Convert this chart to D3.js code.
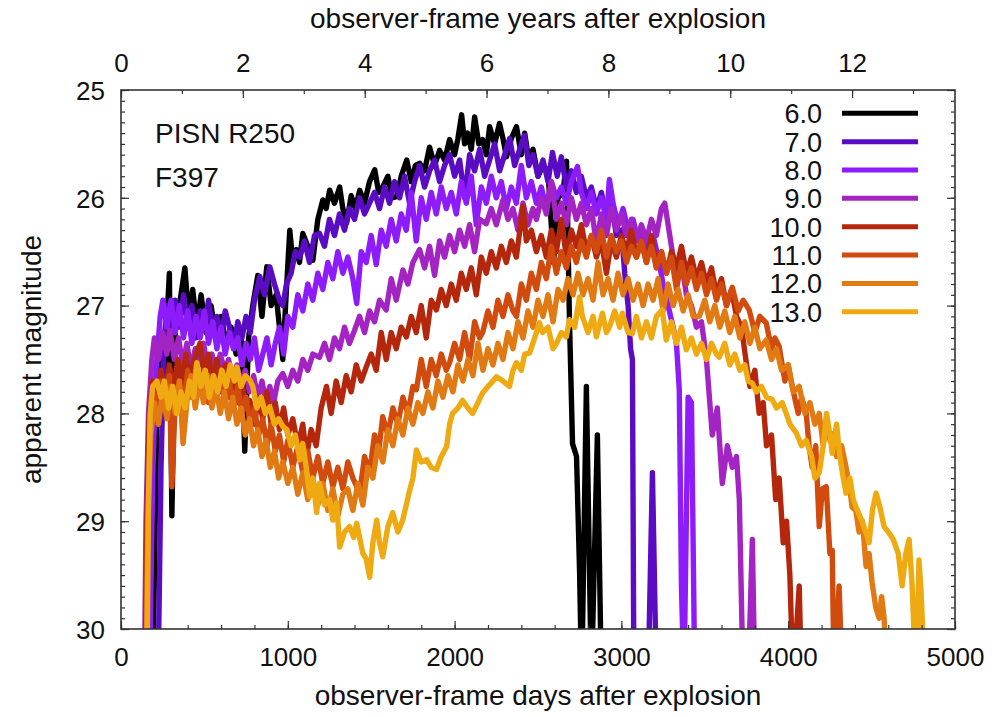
<!DOCTYPE html>
<html>
<head>
<meta charset="utf-8">
<script src="https://cdn.jsdelivr.net/npm/d3@7"></script>
<style>
  body { margin: 0; background: #fff; }
  text { font-family: "Liberation Sans", Arial, Helvetica, sans-serif; fill: #111; }
</style>
</head>
<body>
<svg id="chart" width="992" height="717"></svg>
<script>
// Light curves of PISN R250 in filter F397, one per source redshift.
// Each point: [observer-frame days after explosion, apparent magnitude]
const redshifts = ["6.0", "7.0", "8.0", "9.0", "10.0", "11.0", "12.0", "13.0"];
const lineColors = ["#000000", "#5a0cc4", "#8e1cfa", "#a324c2", "#b4270c", "#d14b0e", "#e17a12", "#efaa12"];

const lcZ6 = [[190,30.5],[215,28.0],[235,27.5],[260,27.6],[290,26.7],[305,28.95],[325,27.2],[350,27.0],[383,26.65],[405,27.1],[430,26.85],[455,27.2],[480,26.9],[510,27.25],[540,27.0],[570,27.3],[600,27.1],[630,27.35],[660,27.2],[690,27.45],[720,27.3],[742,28.35],[765,27.3],[790,27.0],[820,26.72],[845,27.1],[874,26.64],[900,27.0],[930,26.9],[950,27.2],[970,27.5],[990,26.9],[1012,26.3],[1030,26.6],[1052,26.48],[1070,26.6],[1090,26.33],[1120,26.45],[1150,26.58],[1180,26.2],[1210,26.02],[1230,26.1],[1251,25.93],[1280,26.05],[1311,25.9],[1330,26.1],[1353,26.23],[1380,25.98],[1405,26.1],[1431,25.93],[1460,26.05],[1490,25.85],[1521,25.74],[1545,25.95],[1569,25.9],[1600,25.8],[1625,26.0],[1653,25.99],[1680,25.8],[1713,25.65],[1740,25.85],[1765,25.7],[1790,25.68],[1820,25.75],[1850,25.53],[1880,25.7],[1910,25.56],[1940,25.65],[1970,25.46],[2000,25.6],[2020,25.45],[2042,25.23],[2060,25.5],[2078,25.4],[2100,25.55],[2120,25.25],[2145,25.5],[2168,25.46],[2190,25.6],[2210,25.34],[2240,25.5],[2269,25.31],[2290,25.45],[2311,25.62],[2340,25.45],[2371,25.34],[2400,25.6],[2420,25.4],[2445,25.65],[2470,25.55],[2500,25.8],[2530,25.7],[2560,25.75],[2593,26.6],[2620,26.0],[2650,25.95],[2671,25.66],[2689,27.16],[2707,28.28],[2731,28.4],[2749,29.45],[2762,30.5],[2790,27.75],[2820,30.5],[2856,28.2],[2880,30.5]];

const lcZ7 = [[222,30.5],[240,28.5],[258,27.3],[280,27.0],[300,27.25],[325,26.95],[350,27.2],[375,26.9],[400,27.15],[425,27.0],[450,27.3],[475,27.05],[500,27.2],[525,26.95],[550,27.25],[575,27.1],[600,27.3],[625,27.05],[650,27.2],[675,27.4],[700,27.15],[725,27.3],[750,27.1],[775,27.25],[800,26.95],[832,26.73],[860,26.9],[892,26.64],[920,26.8],[950,26.95],[970,27.0],[992,26.8],[1020,26.7],[1045,26.5],[1072,26.55],[1100,26.4],[1130,26.6],[1160,26.35],[1190,26.33],[1220,26.45],[1250,26.2],[1280,26.35],[1310,26.15],[1340,26.3],[1370,26.1],[1400,26.2],[1430,26.0],[1460,26.15],[1490,26.05],[1520,25.95],[1550,26.1],[1580,25.9],[1610,26.05],[1640,25.85],[1670,26.0],[1700,25.8],[1730,26.05],[1760,25.85],[1790,25.7],[1820,25.9],[1850,25.75],[1880,25.65],[1910,25.85],[1940,25.7],[1970,25.6],[2000,25.8],[2030,25.65],[2060,26.0],[2090,25.6],[2120,25.75],[2150,25.55],[2180,25.8],[2210,25.65],[2240,25.5],[2270,25.75],[2300,25.6],[2330,25.45],[2360,25.7],[2390,25.55],[2419,25.42],[2445,25.7],[2470,25.6],[2500,25.8],[2530,25.65],[2560,25.85],[2587,25.58],[2615,25.8],[2640,25.62],[2670,25.9],[2700,25.75],[2730,25.95],[2760,25.8],[2790,26.0],[2820,25.9],[2850,26.1],[2880,25.95],[2910,26.2],[2940,26.05],[2970,26.35],[3000,26.3],[3020,26.7],[3040,27.0],[3055,27.4],[3066,27.5],[3075,30.5],[3160,30.5],[3186,28.55],[3210,30.5]];

const lcZ8 = [[170,30.5],[190,28.6],[210,27.6],[235,27.1],[251,26.95],[275,27.2],[300,26.95],[325,27.25],[350,27.0],[375,27.3],[400,27.05],[425,27.35],[450,27.1],[475,27.3],[500,27.05],[525,27.35],[550,27.15],[575,27.4],[600,27.2],[625,27.45],[650,27.25],[675,27.4],[700,27.3],[725,27.55],[750,27.35],[775,27.5],[800,27.3],[825,27.6],[850,27.45],[875,27.3],[900,27.55],[925,27.35],[950,27.2],[975,27.45],[1000,27.1],[1030,27.2],[1060,26.9],[1090,27.05],[1120,26.8],[1150,26.95],[1180,26.7],[1210,26.85],[1240,26.6],[1270,26.75],[1300,26.5],[1330,26.7],[1360,26.55],[1390,26.75],[1413,26.98],[1440,26.5],[1470,26.6],[1500,26.35],[1530,26.62],[1560,26.3],[1590,26.45],[1620,26.2],[1650,26.4],[1680,26.15],[1710,26.3],[1740,25.95],[1770,26.4],[1800,26.0],[1830,26.2],[1860,25.95],[1890,26.15],[1920,25.9],[1950,26.1],[1980,25.95],[2010,26.15],[2040,25.85],[2070,26.05],[2100,25.8],[2130,26.25],[2160,25.9],[2190,26.05],[2220,25.8],[2250,26.0],[2280,25.85],[2310,26.1],[2340,25.9],[2370,26.05],[2400,25.7],[2430,26.0],[2460,25.85],[2490,26.05],[2520,25.9],[2550,26.1],[2580,25.85],[2610,26.0],[2640,25.9],[2670,26.05],[2700,25.85],[2737,25.71],[2760,25.95],[2790,26.1],[2820,25.95],[2850,26.15],[2880,26.0],[2910,26.2],[2928,25.83],[2950,26.05],[2980,26.25],[3010,26.1],[3040,26.3],[3070,26.2],[3100,26.4],[3130,26.3],[3160,26.5],[3190,26.35],[3220,26.55],[3250,26.8],[3280,27.0],[3310,27.2],[3330,27.35],[3347,27.78],[3360,29.6],[3375,30.5],[3400,27.85],[3420,27.9],[3440,30.5]];

const lcZ9 = [[140,30.5],[150,29.0],[165,28.0],[185,27.5],[200,27.3],[225,27.5],[250,27.25],[275,27.45],[293,27.23],[320,27.5],[345,27.3],[370,27.55],[395,27.35],[420,27.6],[445,27.4],[470,27.55],[495,27.35],[520,27.6],[545,27.45],[570,27.65],[595,27.45],[620,27.6],[645,27.5],[670,27.7],[695,27.55],[720,27.75],[745,27.6],[770,27.8],[795,27.65],[820,27.85],[845,27.7],[870,27.9],[892,27.75],[915,27.9],[940,27.7],[970,27.63],[1000,27.75],[1030,27.6],[1060,27.7],[1090,27.5],[1120,27.6],[1150,27.45],[1190,27.48],[1220,27.35],[1250,27.5],[1280,27.3],[1310,27.4],[1340,27.2],[1370,27.35],[1400,27.23],[1430,27.1],[1460,27.25],[1490,27.05],[1520,27.15],[1550,26.95],[1590,27.04],[1620,26.75],[1650,26.95],[1690,26.67],[1720,26.8],[1750,26.6],[1790,26.48],[1820,26.65],[1850,26.45],[1880,26.72],[1910,26.4],[1940,26.55],[1970,26.35],[2000,26.5],[2030,26.3],[2060,26.45],[2090,26.25],[2120,26.5],[2150,26.2],[2190,26.24],[2220,26.1],[2250,26.25],[2290,26.02],[2320,26.2],[2350,26.1],[2380,26.3],[2410,26.05],[2440,26.25],[2470,26.1],[2491,26.2],[2520,26.0],[2550,26.15],[2580,25.85],[2610,26.2],[2640,26.05],[2670,26.25],[2700,26.0],[2730,26.2],[2760,26.05],[2790,26.25],[2820,26.1],[2850,26.42],[2880,26.15],[2910,26.35],[2940,26.1],[2970,26.3],[3000,26.15],[3030,26.35],[3060,26.2],[3090,26.4],[3120,26.25],[3150,26.4],[3180,26.2],[3210,26.35],[3240,26.1],[3260,26.05],[3285,26.3],[3305,26.5],[3330,26.7],[3360,26.6],[3390,26.9],[3420,27.0],[3450,27.2],[3480,27.15],[3509,27.48],[3545,28.2],[3575,27.95],[3605,28.65],[3635,28.3],[3665,28.5],[3690,28.4],[3707,28.8],[3730,30.5],[3760,30.5],[3785,29.17],[3800,30.5]];

const lcZ10 = [[145,30.5],[155,29.0],[170,28.0],[190,27.7],[215,27.9],[240,27.6],[265,27.85],[290,27.55],[315,27.8],[340,27.5],[365,27.75],[390,27.45],[415,27.7],[440,27.5],[473,27.35],[500,27.65],[525,27.45],[550,27.75],[575,27.5],[600,27.8],[625,27.55],[650,27.85],[675,27.6],[700,27.9],[725,27.7],[750,27.95],[772,27.88],[800,28.1],[825,27.85],[850,28.05],[875,27.8],[900,28.1],[925,27.9],[950,28.15],[975,27.95],[1000,28.2],[1030,28.05],[1060,28.3],[1090,28.1],[1112,28.4],[1140,28.15],[1170,28.3],[1200,27.95],[1232,27.75],[1260,28.0],[1290,27.7],[1320,27.9],[1350,27.65],[1380,27.8],[1410,27.55],[1440,27.7],[1470,27.57],[1500,27.45],[1530,27.6],[1560,27.25],[1590,27.5],[1620,27.25],[1650,27.4],[1680,27.2],[1711,27.29],[1740,27.1],[1770,27.25],[1800,27.0],[1830,27.3],[1860,26.95],[1891,27.04],[1920,26.85],[1950,27.0],[1980,26.8],[2010,26.95],[2040,26.7],[2070,26.85],[2100,26.65],[2130,26.9],[2160,26.55],[2190,26.7],[2220,26.5],[2250,26.65],[2280,26.45],[2310,26.6],[2340,26.4],[2370,26.55],[2410,26.08],[2430,26.4],[2460,26.3],[2490,26.5],[2520,26.35],[2550,26.55],[2580,26.3],[2610,26.5],[2640,26.2],[2670,26.55],[2700,26.3],[2730,26.45],[2760,26.25],[2790,26.5],[2820,26.35],[2850,26.55],[2880,26.4],[2910,26.7],[2940,26.4],[2970,26.55],[3000,26.35],[3030,26.5],[3060,26.3],[3090,26.55],[3120,26.4],[3150,26.6],[3180,26.35],[3210,26.65],[3240,26.5],[3270,26.7],[3300,26.5],[3330,26.65],[3360,26.45],[3390,26.7],[3420,26.55],[3450,26.75],[3480,26.6],[3510,26.8],[3540,26.65],[3570,26.9],[3600,26.75],[3630,27.0],[3660,26.85],[3690,27.1],[3720,27.2],[3746,27.5],[3770,27.75],[3800,27.6],[3826,28.0],[3850,27.9],[3870,28.3],[3900,28.2],[3925,28.8],[3946,28.6],[3970,29.2],[3990,29.0],[4010,29.5],[4030,30.5],[4066,29.6],[4080,30.5]];

const lcZ11 = [[150,30.5],[160,29.0],[175,28.1],[195,27.8],[215,28.0],[240,27.7],[265,27.9],[290,27.65],[305,28.68],[325,27.9],[350,27.7],[375,27.95],[400,27.6],[425,27.85],[450,27.55],[475,27.8],[500,27.6],[525,27.9],[550,27.65],[575,27.85],[600,27.6],[625,27.9],[650,27.7],[675,27.95],[700,27.75],[725,28.0],[750,27.85],[775,28.1],[800,27.95],[825,28.2],[850,28.05],[875,28.3],[900,28.1],[925,28.35],[950,28.2],[975,28.45],[1000,28.25],[1030,28.5],[1060,28.3],[1090,28.55],[1120,28.35],[1150,28.6],[1180,28.4],[1210,28.65],[1240,28.45],[1270,28.68],[1300,28.5],[1330,28.7],[1360,28.45],[1390,28.6],[1431,28.74],[1460,28.4],[1490,28.55],[1520,28.2],[1545,28.35],[1569,28.03],[1600,28.2],[1630,27.95],[1660,28.1],[1690,27.85],[1720,28.0],[1750,27.75],[1771,27.78],[1800,27.5],[1830,27.75],[1860,27.5],[1890,27.65],[1920,27.45],[1950,27.6],[1970,27.53],[2000,27.35],[2030,27.5],[2060,27.25],[2090,27.5],[2120,27.15],[2150,27.3],[2168,27.25],[2200,27.05],[2230,27.2],[2260,26.95],[2290,27.1],[2320,26.9],[2350,27.05],[2371,27.1],[2400,26.8],[2430,26.95],[2460,26.7],[2490,26.85],[2520,26.6],[2550,26.75],[2580,26.45],[2610,26.7],[2640,26.5],[2670,26.65],[2700,26.45],[2730,26.6],[2760,26.4],[2790,26.55],[2820,26.35],[2850,26.5],[2880,26.3],[2910,26.55],[2940,26.35],[2970,26.5],[3000,26.4],[3030,26.6],[3060,26.45],[3090,26.55],[3120,26.4],[3150,26.6],[3180,26.45],[3210,26.65],[3240,26.5],[3270,26.7],[3300,26.55],[3330,26.85],[3360,26.6],[3390,26.8],[3420,26.65],[3450,26.85],[3480,26.7],[3510,26.9],[3540,26.75],[3570,26.95],[3600,26.8],[3630,27.0],[3665,26.83],[3700,27.05],[3730,26.95],[3766,27.04],[3800,27.25],[3830,27.1],[3868,27.16],[3900,27.4],[3920,27.3],[3946,27.38],[3980,27.7],[4000,27.55],[4024,27.75],[4060,28.0],[4080,27.85],[4108,28.0],[4125,28.3],[4144,28.5],[4165,28.3],[4186,29.05],[4205,28.7],[4228,28.68],[4250,29.3],[4264,29.27],[4275,30.5],[4305,29.6],[4325,30.5]];

const lcZ12 = [[150,30.5],[162,29.0],[178,28.2],[200,27.9],[225,28.1],[250,27.8],[275,28.05],[300,27.75],[325,28.0],[350,27.7],[372,28.28],[395,27.9],[420,27.65],[445,27.95],[470,27.7],[495,27.9],[520,27.65],[545,27.95],[570,27.75],[595,28.0],[620,27.8],[645,28.05],[670,27.85],[695,28.1],[720,27.95],[745,28.2],[770,28.05],[795,28.3],[820,28.15],[845,28.4],[870,28.25],[895,28.5],[920,28.35],[945,28.6],[970,28.45],[1000,28.65],[1030,28.5],[1060,28.75],[1090,28.55],[1120,28.8],[1150,28.6],[1180,28.85],[1210,28.65],[1240,28.9],[1270,28.7],[1300,28.95],[1330,28.75],[1360,28.7],[1390,28.9],[1420,28.65],[1450,28.85],[1480,28.5],[1510,28.6],[1540,28.3],[1570,28.45],[1600,28.15],[1630,28.3],[1660,28.05],[1690,28.2],[1720,27.95],[1750,28.1],[1780,27.9],[1810,28.0],[1840,27.8],[1870,27.95],[1900,27.7],[1930,27.85],[1960,27.65],[1990,27.8],[2020,27.55],[2050,27.7],[2080,27.5],[2110,27.65],[2140,27.35],[2170,27.6],[2200,27.4],[2230,27.55],[2260,27.35],[2290,27.5],[2320,27.25],[2350,27.4],[2380,27.15],[2410,27.3],[2440,27.05],[2470,27.2],[2500,26.95],[2530,27.1],[2560,26.9],[2590,27.15],[2620,26.85],[2650,26.95],[2680,26.75],[2710,26.9],[2740,26.7],[2770,26.9],[2800,26.75],[2830,26.95],[2860,26.6],[2890,26.9],[2920,26.75],[2950,26.95],[2980,26.7],[3010,26.9],[3040,26.75],[3070,26.95],[3100,26.8],[3130,27.0],[3160,26.8],[3190,26.95],[3220,26.75],[3250,27.05],[3280,26.8],[3310,27.0],[3340,26.85],[3370,27.05],[3400,26.9],[3430,27.1],[3467,27.1],[3500,26.95],[3530,27.15],[3560,27.0],[3590,27.2],[3620,27.05],[3650,27.25],[3680,27.1],[3710,27.3],[3740,27.15],[3770,27.35],[3800,27.2],[3830,27.4],[3868,27.32],[3900,27.5],[3930,27.4],[3960,27.6],[4000,27.55],[4030,27.8],[4066,27.75],[4100,28.0],[4130,27.9],[4160,28.1],[4186,28.0],[4210,28.3],[4230,28.05],[4250,28.25],[4264,28.19],[4290,28.4],[4320,28.3],[4347,28.5],[4370,28.7],[4383,28.87],[4405,28.9],[4425,29.1],[4445,29.0],[4467,29.42],[4485,29.3],[4503,29.57],[4525,29.8],[4545,29.9],[4560,29.7],[4575,29.9],[4590,30.5]];

const lcZ13 = [[155,30.5],[165,28.8],[175,28.0],[190,27.75],[215,27.7],[240,27.85],[260,27.7],[285,27.95],[310,27.75],[335,28.0],[360,27.8],[385,27.95],[410,27.7],[435,27.85],[455,27.53],[480,27.75],[505,27.6],[530,27.85],[555,27.65],[580,27.8],[605,27.6],[630,27.75],[655,27.55],[680,27.7],[695,27.57],[720,27.75],[745,27.65],[772,27.69],[790,27.75],[815,27.95],[840,27.85],[865,28.0],[892,27.94],[920,28.1],[945,28.05],[970,28.12],[994,28.15],[1020,28.3],[1045,28.2],[1072,28.43],[1090,28.28],[1110,28.5],[1132,28.77],[1150,28.6],[1173,28.92],[1190,28.65],[1220,28.85],[1250,28.8],[1270,28.99],[1293,28.83],[1311,29.24],[1340,29.1],[1370,29.05],[1395,29.15],[1413,29.02],[1450,29.3],[1470,29.35],[1491,29.52],[1510,29.2],[1533,28.99],[1550,29.2],[1569,29.33],[1600,29.05],[1629,28.92],[1660,29.1],[1689,28.99],[1710,28.85],[1731,28.71],[1750,28.6],[1771,28.34],[1800,28.45],[1832,28.43],[1860,28.5],[1892,28.52],[1920,28.4],[1952,28.31],[1970,28.1],[1988,28.0],[2020,27.95],[2048,27.88],[2080,27.95],[2108,28.0],[2140,27.9],[2168,27.81],[2200,27.75],[2230,27.7],[2251,27.66],[2290,27.7],[2329,27.75],[2350,27.6],[2371,27.53],[2400,27.6],[2420,27.45],[2449,27.44],[2480,27.3],[2509,27.16],[2527,27.25],[2560,27.2],[2590,27.4],[2611,27.35],[2640,27.25],[2670,27.29],[2689,27.13],[2720,27.2],[2749,26.92],[2766,27.1],[2800,27.25],[2830,27.1],[2850,27.29],[2886,27.07],[2910,27.25],[2928,27.2],[2960,27.05],[2990,27.2],[3006,27.07],[3040,27.25],[3066,27.26],[3090,27.1],[3120,27.3],[3150,27.15],[3180,27.3],[3210,27.1],[3245,27.04],[3269,27.32],[3300,27.15],[3330,27.35],[3360,27.2],[3389,27.41],[3420,27.3],[3450,27.45],[3480,27.35],[3510,27.5],[3540,27.35],[3570,27.45],[3587,27.48],[3620,27.35],[3650,27.55],[3680,27.45],[3710,27.6],[3740,27.55],[3760,27.7],[3785,27.72],[3810,27.8],[3840,27.75],[3870,27.85],[3904,27.87],[3930,27.95],[3964,27.9],[3988,28.0],[4010,28.1],[4048,28.18],[4080,28.3],[4108,28.25],[4140,28.4],[4160,28.6],[4186,28.55],[4210,28.3],[4230,28.0],[4250,28.2],[4264,28.37],[4290,28.1],[4310,28.4],[4330,28.6],[4347,28.74],[4370,28.6],[4390,28.8],[4407,28.87],[4440,28.99],[4465,29.1],[4485,29.2],[4505,28.9],[4527,28.74],[4550,28.87],[4575,29.05],[4605,29.11],[4630,29.17],[4660,29.3],[4683,29.6],[4705,29.3],[4725,29.17],[4743,29.6],[4766,30.5],[4784,29.36],[4796,29.64],[4820,30.5]];

const lightCurves = [lcZ6, lcZ7, lcZ8, lcZ9, lcZ10, lcZ11, lcZ12, lcZ13];

// Axis ticks
const dayTicks = [0, 1000, 2000, 3000, 4000, 5000];
const dayMinorTicks = d3.range(0, 5001, 200);
const yearTicks = [0, 2, 4, 6, 8, 10, 12];
const yearMinorTicks = d3.range(0, 14, 1);
const magTicks = [25, 26, 27, 28, 29, 30];
const magMinorTicks = d3.range(25, 30.001, 0.1);

const DAYS_PER_YEAR = 365.25;
const plot = { left: 121, right: 955, top: 90, bottom: 629 };

const svg = d3.select("#chart");
svg.append("rect").attr("width", 992).attr("height", 717).attr("fill", "#fff");

const x = d3.scaleLinear().domain([0, 5000]).range([plot.left, plot.right]);
const xYears = d3.scaleLinear().domain([0, 5000 / DAYS_PER_YEAR]).range([plot.left, plot.right]);
const y = d3.scaleLinear().domain([25, 30]).range([plot.top, plot.bottom]);

svg.append("clipPath").attr("id", "plotClip")
  .append("rect")
  .attr("x", plot.left).attr("y", plot.top)
  .attr("width", plot.right - plot.left).attr("height", plot.bottom - plot.top);

// Curves (lower redshifts drawn first, higher ones on top)
const line = d3.line().x(d => x(d[0])).y(d => y(d[1]));
const curves = svg.append("g").attr("clip-path", "url(#plotClip)");
lightCurves.forEach((lc, i) => {
  curves.append("path")
    .datum(lc)
    .attr("d", line)
    .attr("fill", "none")
    .attr("stroke", lineColors[i])
    .attr("stroke-width", 5.4)
    .attr("stroke-linejoin", "round")
    .attr("stroke-linecap", "butt");
});

// Inward tick marks on all four sides
const tickColor = "#333";
function ticks(axisGen, transform) {
  const g = svg.append("g").attr("transform", transform).call(axisGen);
  g.select(".domain").remove();
  g.selectAll(".tick line").attr("stroke", tickColor).attr("stroke-width", 1.2);
  return g;
}
const H = plot.bottom - plot.top, W = plot.right - plot.left;

ticks(d3.axisBottom(x).tickValues(dayMinorTicks).tickSize(-4).tickFormat(""), `translate(0,${plot.bottom})`);
const gxB = ticks(d3.axisBottom(x).tickValues(dayTicks).tickSize(-8).tickFormat(d3.format("d")), `translate(0,${plot.bottom})`);
ticks(d3.axisTop(xYears).tickValues(yearMinorTicks).tickSize(-4).tickFormat(""), `translate(0,${plot.top})`);
const gxT = ticks(d3.axisTop(xYears).tickValues(yearTicks).tickSize(-8).tickFormat(d3.format("d")), `translate(0,${plot.top})`);
ticks(d3.axisLeft(y).tickValues(magMinorTicks).tickSize(-4).tickFormat(""), `translate(${plot.left},0)`);
const gyL = ticks(d3.axisLeft(y).tickValues(magTicks).tickSize(-8).tickFormat(d3.format("d")), `translate(${plot.left},0)`);
ticks(d3.axisRight(y).tickValues(magMinorTicks).tickSize(-4).tickFormat(""), `translate(${plot.right},0)`);
ticks(d3.axisRight(y).tickValues(magTicks).tickSize(-8).tickFormat(""), `translate(${plot.right},0)`);

const tickFont = 26;
const fontFamily = '"Liberation Sans", Arial, sans-serif';
gxB.selectAll(".tick text").attr("y", 37).attr("dy", 0).attr("font-size", tickFont)
  .attr("font-family", fontFamily).attr("fill", "#111");
gxT.selectAll(".tick text").attr("y", -18).attr("dy", 0).attr("font-size", tickFont)
  .attr("font-family", fontFamily).attr("fill", "#111");
gyL.selectAll(".tick text").attr("x", -16).attr("dy", "0.36em").attr("font-size", tickFont)
  .attr("font-family", fontFamily).attr("fill", "#111");

// Frame
svg.append("rect")
  .attr("x", plot.left).attr("y", plot.top).attr("width", W).attr("height", H)
  .attr("fill", "none").attr("stroke", tickColor).attr("stroke-width", 1.6);

// Axis titles
const titleFont = 28;
svg.append("text").attr("x", (plot.left + plot.right) / 2).attr("y", 705)
  .attr("text-anchor", "middle").attr("font-size", titleFont)
  .text("observer-frame days after explosion");
svg.append("text").attr("x", (plot.left + plot.right) / 2).attr("y", 28)
  .attr("text-anchor", "middle").attr("font-size", titleFont)
  .text("observer-frame years after explosion");
svg.append("text")
  .attr("transform", `translate(41,${(plot.top + plot.bottom) / 2}) rotate(-90)`)
  .attr("text-anchor", "middle").attr("font-size", titleFont)
  .text("apparent magnitude");

// Model / filter annotation
svg.append("text").attr("x", 155).attr("y", 143).attr("font-size", titleFont).text("PISN R250");
svg.append("text").attr("x", 155).attr("y", 187).attr("font-size", titleFont).text("F397");

// Legend
const legend = svg.append("g");
const legendTop = 113.3, legendStep = 28.35;
redshifts.forEach((z, i) => {
  const cy = legendTop + i * legendStep;
  legend.append("text").attr("x", 822).attr("y", cy + 10).attr("text-anchor", "end")
    .attr("font-size", 27).text(z);
  legend.append("line").attr("x1", 842).attr("x2", 918).attr("y1", cy).attr("y2", cy)
    .attr("stroke", lineColors[i]).attr("stroke-width", 5);
});
</script>
</body>
</html>
